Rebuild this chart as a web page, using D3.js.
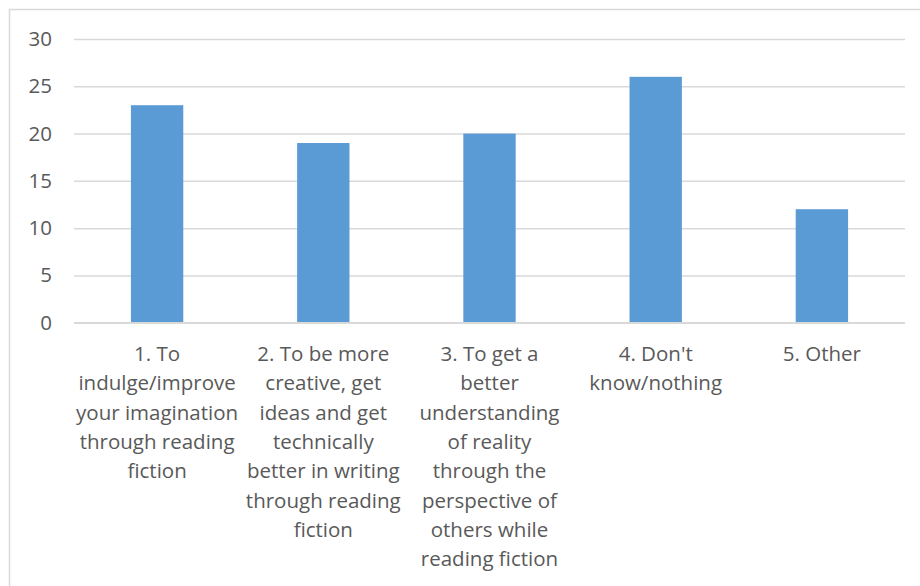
<!DOCTYPE html>
<html>
<head>
<meta charset="utf-8">
<script src="https://cdn.jsdelivr.net/npm/d3@7"></script>
<style>
  html, body { margin: 0; padding: 0; background: #fff; }
  svg { display: block; }
  text { font-family: "Open Sans", "Noto Sans", sans-serif; fill: #595959; }
</style>
</head>
<body>
<svg id="chart" width="920" height="586"></svg>
<script>
// Survey responses per reason
const categories = [
  "1. To indulge/improve your imagination through reading fiction",
  "2. To be more creative, get ideas and get technically better in writing through reading fiction",
  "3. To get a better understanding of reality through the perspective of others while reading fiction",
  "4. Don't know/nothing",
  "5. Other"
];
const values = [23, 19, 20, 26, 12];

// Category label lines as they wrap under each bar
const labelLines = [
  ["1. To", "indulge/improve", "your imagination", "through reading", "fiction"],
  ["2. To be more", "creative, get", "ideas and get", "technically", "better in writing", "through reading", "fiction"],
  ["3. To get a", "better", "understanding", "of reality", "through the", "perspective of", "others while", "reading fiction"],
  ["4. Don't", "know/nothing"],
  ["5. Other"]
];

const yTicks = [0, 5, 10, 15, 20, 25, 30];

const svg = d3.select("#chart");
const W = 920, H = 586;
const plot = { left: 74, right: 905, top: 39, bottom: 322.7 };

// Chart frame
svg.append("rect")
  .attr("x", 9.5).attr("y", 9.5)
  .attr("width", W + 10).attr("height", H + 10)
  .attr("fill", "#fff")
  .attr("stroke", "#d9d9d9")
  .attr("stroke-width", 1.5);

const x = d3.scaleBand()
  .domain(categories)
  .range([plot.left, plot.right])
  .paddingInner(0.685)
  .paddingOuter(0.3425);

const y = d3.scaleLinear()
  .domain([0, 30])
  .range([plot.bottom, plot.top]);

// Horizontal gridlines
const yAxis = d3.axisLeft(y)
  .tickValues(yTicks)
  .tickSize(-(plot.right - plot.left))
  .tickPadding(22);

const gy = svg.append("g")
  .attr("transform", `translate(${plot.left},0)`)
  .call(yAxis);
gy.select(".domain").remove();
gy.selectAll(".tick line")
  .attr("stroke", "#d9d9d9")
  .attr("stroke-width", 1.5);
gy.selectAll(".tick text")
  .attr("font-size", 20.5)
  .attr("font-family", "Open Sans, Noto Sans, sans-serif")
  .attr("fill", "#595959");

// Bars
svg.append("g")
  .selectAll("rect")
  .data(values)
  .join("rect")
  .attr("x", (d, i) => x(categories[i]))
  .attr("y", d => y(d))
  .attr("width", x.bandwidth())
  .attr("height", d => y(0) - y(d))
  .attr("fill", "#5b9bd5");

// Baseline
svg.append("line")
  .attr("x1", plot.left).attr("x2", plot.right)
  .attr("y1", y(0)).attr("y2", y(0))
  .attr("stroke", "#d9d9d9")
  .attr("stroke-width", 1.5);

// Category labels
const lineHeight = 29.3;
const gx = svg.append("g");
categories.forEach((c, i) => {
  const cx = x(c) + x.bandwidth() / 2;
  const t = gx.append("text")
    .attr("text-anchor", "middle")
    .attr("font-size", 20.5);
  labelLines[i].forEach((ln, j) => {
    t.append("tspan")
      .attr("x", cx)
      .attr("y", 361 + j * lineHeight)
      .text(ln);
  });
});
</script>
</body>
</html>
